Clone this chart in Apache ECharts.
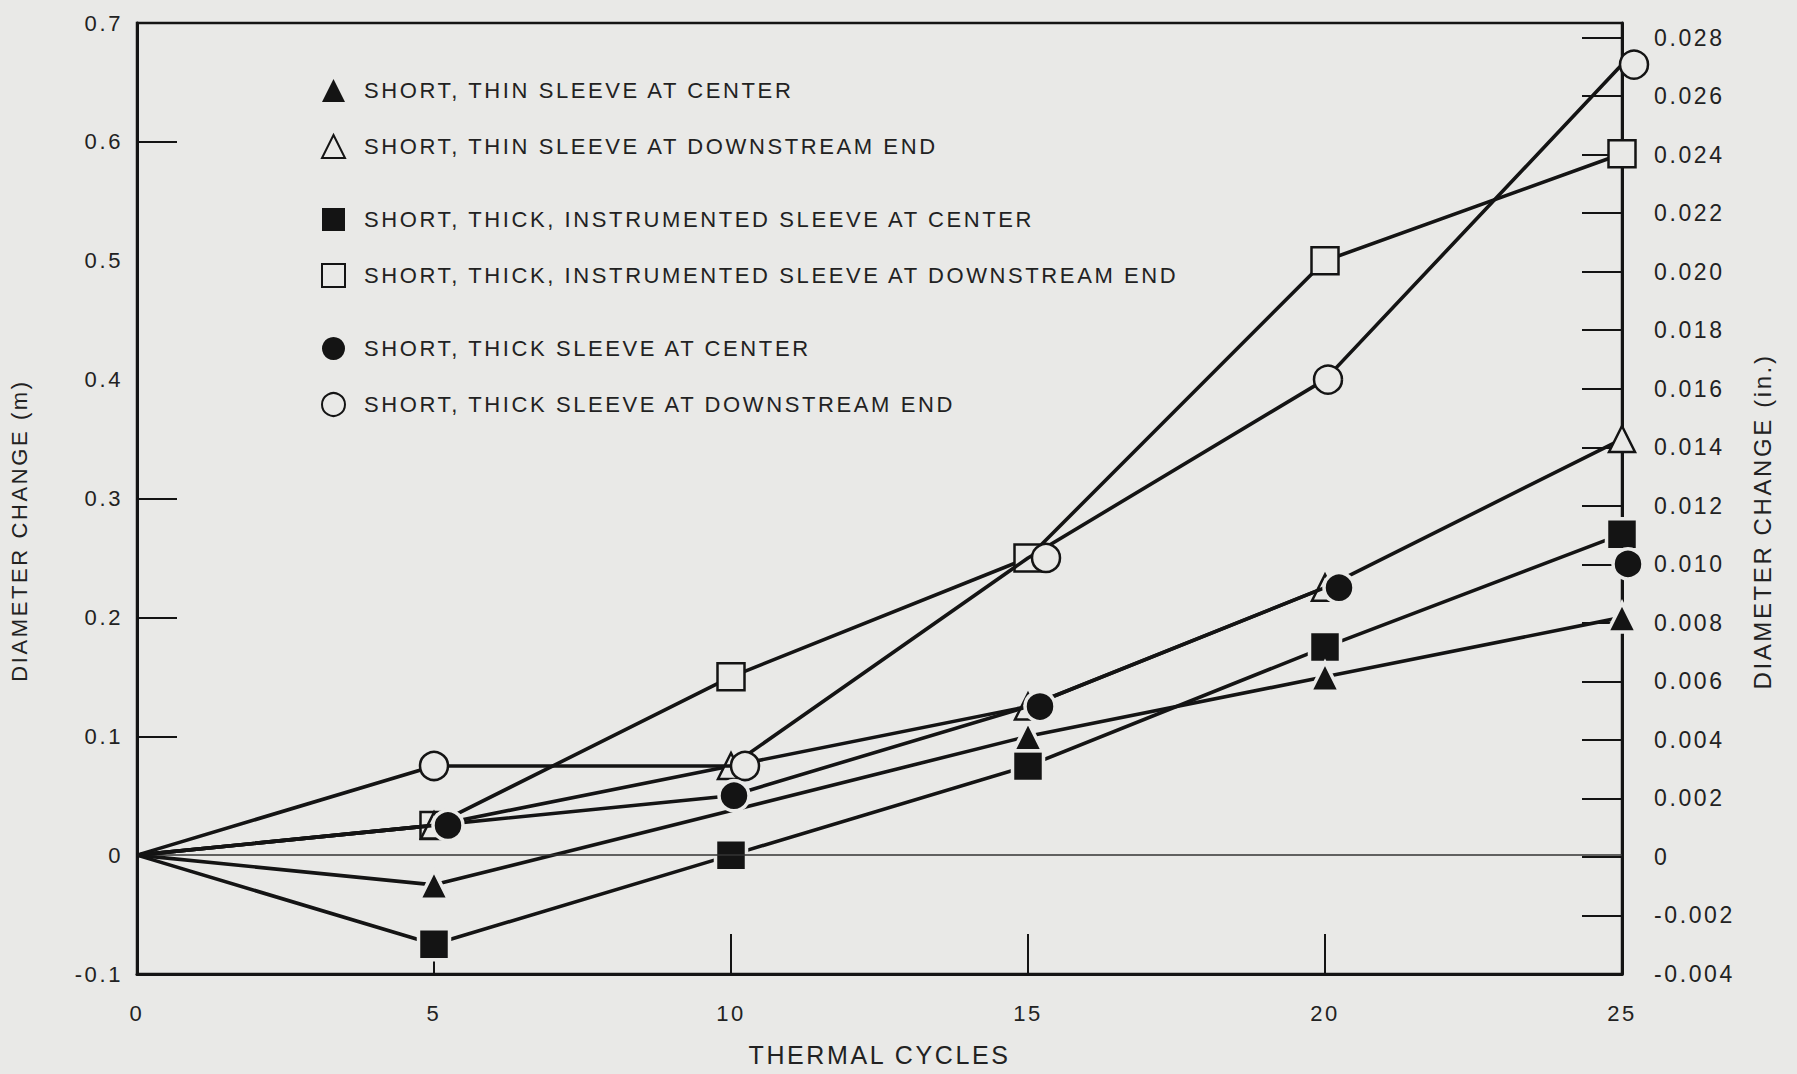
<!DOCTYPE html>
<html><head><meta charset="utf-8">
<script src="https://cdn.jsdelivr.net/npm/echarts@6/dist/echarts.min.js"></script>
<style>
html,body{margin:0;padding:0;background:#e9e9e7;}
#chart{width:1797px;height:1074px;}
#chart text{letter-spacing:2.6px;}
</style></head><body><div id="chart"></div>
<script>
// ---- data ----
const cycles = [0, 5, 10, 15, 20, 25];
const names = [
  'SHORT, THIN SLEEVE AT CENTER',
  'SHORT, THIN SLEEVE AT DOWNSTREAM END',
  'SHORT, THICK, INSTRUMENTED SLEEVE AT CENTER',
  'SHORT, THICK, INSTRUMENTED SLEEVE AT DOWNSTREAM END',
  'SHORT, THICK SLEEVE AT CENTER',
  'SHORT, THICK SLEEVE AT DOWNSTREAM END'
];
const thinCenter       = [0, -0.025, null, 0.10, 0.15, 0.20];
const thinDown         = [0, 0.025, 0.075, 0.125, 0.225, 0.35];
const thickInstrCenter = [0, -0.075, 0.0, 0.075, 0.175, 0.27];
const thickInstrDown   = [0, 0.025, 0.15, 0.25, 0.50, 0.59];
const thickCenter      = [0, 0.025, 0.05, 0.125, 0.225, 0.245];
const thickDown        = [0, 0.075, 0.075, 0.25, 0.40, 0.665];
// whether the segment leading into each point is drawn (the last filled-circle point stands alone)
const thickCenterLinked = [true, true, true, true, true, false];
const leftTickMarks  = [0.1, 0.2, 0.3, 0.6];
const xTickMarks     = [5, 10, 15, 20];

// ---- style ----
const BG = '#e9e9e7', INK = '#141414', TXT = '#222222';
const FONT = '"Liberation Sans", Arial, sans-serif';
const shiftThickCenter = [0, 14, 3, 12, 14, 6];
const shiftThickDown   = [0, 0, 14, 18, 3, 12];

function build(vals, shifts, linked) {
  const out = [];
  cycles.forEach((c, i) => {
    const v = vals[i];
    if (v === null) return;
    if (linked && !linked[i]) out.push({ value: [c, '-'] });
    const item = { value: [c, v] };
    if (i === 0) item.symbol = 'none';
    if (shifts && shifts[i]) item.symbolOffset = [shifts[i], 0];
    out.push(item);
  });
  return out;
}

const filled = { color: INK, borderColor: BG, borderWidth: 3.5 };
const hollow = { color: BG, borderColor: INK, borderWidth: 2.5 };

const defs = [
  { vals: thinCenter,       symbol: 'triangle', size: 29, style: filled },
  { vals: thinDown,         symbol: 'triangle', size: 26, style: hollow },
  { vals: thickInstrCenter, symbol: 'rect',     size: 31, style: filled },
  { vals: thickInstrDown,   symbol: 'rect',     size: 27, style: hollow },
  { vals: thickCenter,      symbol: 'circle',   size: 30, style: filled, shifts: shiftThickCenter, linked: thickCenterLinked },
  { vals: thickDown,        symbol: 'circle',   size: 28, style: hollow, shifts: shiftThickDown }
];
const drawOrder = [2, 0, 3, 1, 5, 4];

const series = drawOrder.map((k, j) => {
  const d = defs[k];
  const s = {
    name: names[k], type: 'line', data: build(d.vals, d.shifts, d.linked),
    symbol: d.symbol, symbolSize: d.size, showAllSymbol: true, connectNulls: false,
    lineStyle: { color: INK, width: 3.6 },
    itemStyle: Object.assign({}, d.style), z: 3 + j,
    emphasis: { disabled: true }, animation: false
  };
  if (j === 0) {
    s.markLine = { silent: true, symbol: 'none', label: { show: false },
      lineStyle: { color: '#333', width: 1.5, type: 'solid' }, data: [{ yAxis: 0 }] };
  }
  return s;
});

function legendItem(k) {
  const d = defs[k];
  return { name: names[k], icon: d.symbol,
    itemStyle: d.style === filled ? { color: INK, borderWidth: 0 } : { color: BG, borderColor: INK, borderWidth: 2 } };
}
const legendBase = { orient: 'vertical', left: 316, itemWidth: 23, itemHeight: 23, itemGap: 32,
  selectedMode: false, textStyle: { fontFamily: FONT, fontSize: 22, color: TXT, padding: [0, 0, 0, 14] } };

const chart = echarts.init(document.getElementById('chart'), null, { renderer: 'svg' });
chart.setOption({
  backgroundColor: BG,
  animation: false,
  textStyle: { fontFamily: FONT },
  grid: { left: 137, right: 175, top: 23, bottom: 100, show: true, borderColor: INK, borderWidth: 2.5, backgroundColor: 'transparent' },
  legend: [
    Object.assign({}, legendBase, { top: 74,  data: [legendItem(0), legendItem(1)] }),
    Object.assign({}, legendBase, { top: 203, data: [legendItem(2), legendItem(3)] }),
    Object.assign({}, legendBase, { top: 332, data: [legendItem(4), legendItem(5)] })
  ],
  xAxis: {
    type: 'value', min: 0, max: 25, interval: 5,
    name: 'THERMAL CYCLES', nameLocation: 'middle', nameGap: 68,
    nameTextStyle: { fontSize: 25, color: TXT, fontFamily: FONT },
    axisLine: { show: true, onZero: false, lineStyle: { color: INK, width: 3 } },
    axisTick: { show: true, inside: true, length: 40, customValues: xTickMarks, lineStyle: { color: INK, width: 2 } },
    axisLabel: { fontSize: 22, color: TXT, margin: 28, fontFamily: FONT },
    splitLine: { show: false }
  },
  yAxis: [
    {
      type: 'value', min: -0.1, max: 0.7, interval: 0.1, position: 'left',
      name: 'DIAMETER CHANGE (m)', nameLocation: 'middle', nameGap: 107, nameRotate: 90,
      nameTextStyle: { fontSize: 22, color: TXT, fontFamily: FONT, padding: [0, 64, 0, 0] },
      axisLine: { show: true, onZero: false, lineStyle: { color: INK, width: 3 } },
      axisTick: { show: true, inside: true, length: 40, customValues: leftTickMarks, lineStyle: { color: INK, width: 2 } },
      axisLabel: { fontSize: 22, color: TXT, margin: 14, fontFamily: FONT },
      splitLine: { show: false }
    },
    {
      type: 'value', min: -0.004, max: 0.0285, interval: 0.002, position: 'right',
      name: 'DIAMETER CHANGE (in.)', nameLocation: 'middle', nameGap: 128, nameRotate: 90,
      nameTextStyle: { fontSize: 24, color: TXT, fontFamily: FONT, padding: [0, 46, 0, 0] },
      axisLine: { show: true, onZero: false, lineStyle: { color: INK, width: 3 } },
      axisTick: { show: true, inside: true, length: 40, lineStyle: { color: INK, width: 2 } },
      axisLabel: { fontSize: 23, color: TXT, margin: 32, fontFamily: FONT, showMaxLabel: false,
        formatter: v => (Math.abs(v) < 1e-9 ? '0' : v.toFixed(3)) },
      splitLine: { show: false }
    }
  ],
  series: series
});
</script></body></html>
